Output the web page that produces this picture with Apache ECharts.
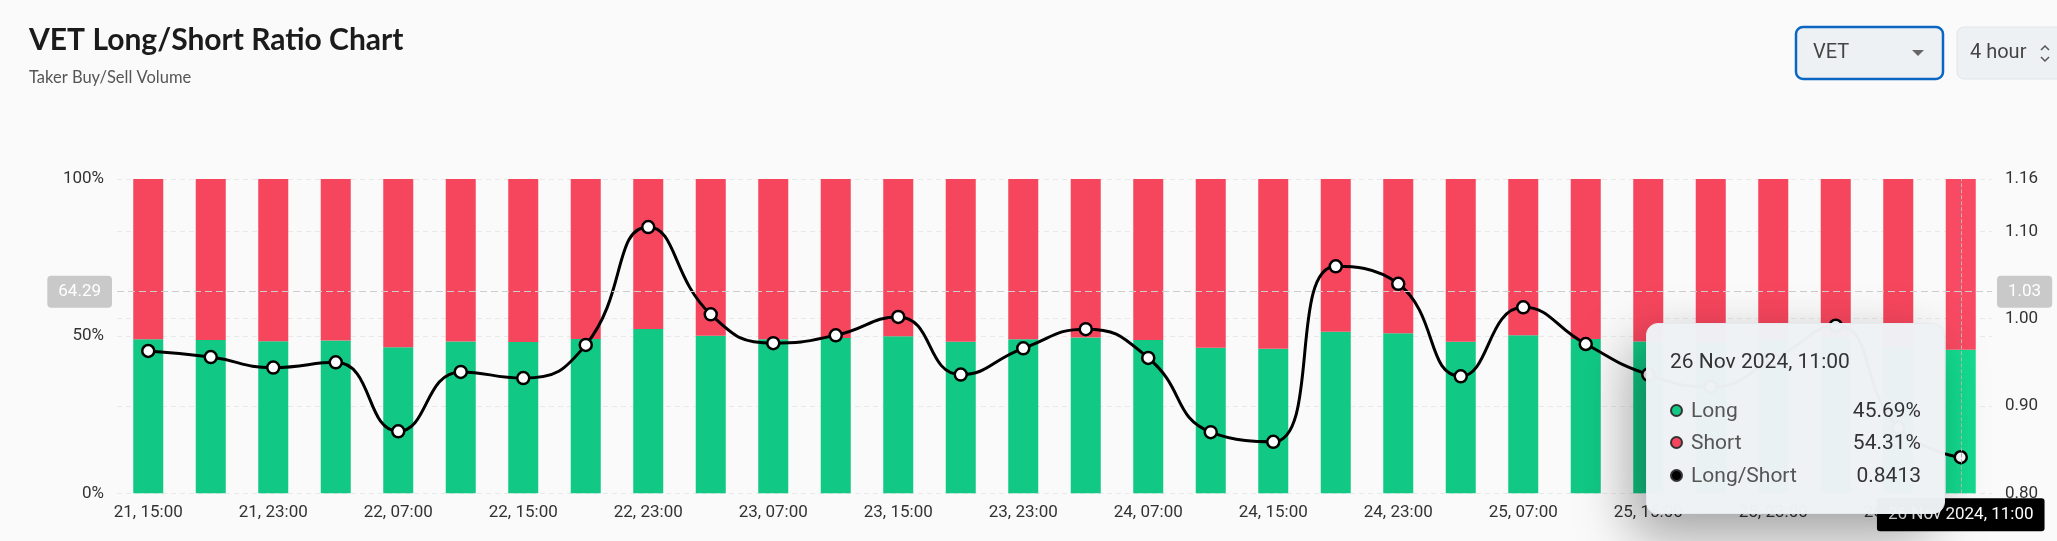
<!DOCTYPE html>
<html>
<head>
<meta charset="utf-8">
<script src="https://cdn.jsdelivr.net/npm/echarts@6/dist/echarts.min.js"></script>
<style>
html,body{margin:0;padding:0;background:#fafafa;}
#chart{width:2057px;height:541px;}
</style>
</head>
<body>
<div id="chart"></div>
<script>
const categories = [
  "2024-11-21 15:00","2024-11-21 19:00","2024-11-21 23:00","2024-11-22 03:00","2024-11-22 07:00",
  "2024-11-22 11:00","2024-11-22 15:00","2024-11-22 19:00","2024-11-22 23:00","2024-11-23 03:00",
  "2024-11-23 07:00","2024-11-23 11:00","2024-11-23 15:00","2024-11-23 19:00","2024-11-23 23:00",
  "2024-11-24 03:00","2024-11-24 07:00","2024-11-24 11:00","2024-11-24 15:00","2024-11-24 19:00",
  "2024-11-24 23:00","2024-11-25 03:00","2024-11-25 07:00","2024-11-25 11:00","2024-11-25 15:00",
  "2024-11-25 19:00","2024-11-25 23:00","2024-11-26 03:00","2024-11-26 07:00","2024-11-26 11:00"
];
const longPct = [49.0, 48.8, 48.4, 48.6, 46.5, 48.3, 48.1, 49.1, 52.3, 50.1,
                 49.0, 49.4, 50.0, 48.2, 49.0, 49.6, 48.8, 46.3, 46.0, 51.4,
                 50.9, 48.2, 50.3, 49.1, 48.3, 48.0, 48.8, 49.8, 46.6, 45.69];
const shortPct = [51.0, 51.2, 51.6, 51.4, 53.5, 51.7, 51.9, 50.9, 47.7, 49.9,
                  51.0, 50.6, 50.0, 51.8, 51.0, 50.4, 51.2, 53.7, 54.0, 48.6,
                  49.1, 51.8, 49.7, 50.9, 51.7, 52.0, 51.2, 50.2, 53.4, 54.31];
const ratio = [0.963, 0.956, 0.944, 0.950, 0.871, 0.939, 0.932, 0.970, 1.105, 1.005,
               0.972, 0.981, 1.002, 0.936, 0.966, 0.988, 0.955, 0.870, 0.859, 1.060,
               1.040, 0.934, 1.013, 0.971, 0.936, 0.922, 0.953, 0.992, 0.875, 0.8413];
const leftTicks = [0, 50, 100];
const rightAxisRange = [0.80, 1.16];
const pointerLeftValue = 64.29;
const hoverIndex = 29;

const MONTHS = ["Jan","Feb","Mar","Apr","May","Jun","Jul","Aug","Sep","Oct","Nov","Dec"];
function shortLabel(s){ const d = s.slice(8,10); const t = s.slice(11); return d + ", " + t; }
function fullLabel(s){
  const y = s.slice(0,4), m = +s.slice(5,7), d = s.slice(8,10), t = s.slice(11);
  return d + " " + MONTHS[m-1] + " " + y + ", " + t;
}

const GREEN = '#11C985', RED = '#F6465D';
const FONT = 'Roboto';
const chart = echarts.init(document.getElementById('chart'), null, {renderer:'canvas'});

function marker(c){
  return '<span style="display:inline-block;width:9px;height:9px;border-radius:50%;border:2px solid #333;background:'+c+';margin-right:8px;flex:none"></span>';
}
function row(c, name, val){
  return '<div style="display:flex;align-items:center;height:32.5px;font-size:21px;">' + marker(c) +
    '<span style="color:#555;flex:1">' + name + '</span><span style="color:#333">' + val + '</span></div>';
}

const option = {
  backgroundColor: '#fafafa',
  animation: false,
  textStyle: {fontFamily: FONT},
  graphic: [
    {type:'text', x:29, y:40, style:{text:'VET Long/Short Ratio Chart', font:'700 30px Lato', fill:'#1b1b1b', verticalAlign:'middle'}},
    {type:'text', x:29, y:78, style:{text:'Taker Buy/Sell Volume', font:'400 16.5px Lato', fill:'#555', verticalAlign:'middle'}},
    {type:'rect', shape:{x:1796, y:27, width:147, height:52, r:7}, style:{fill:'#eef1f4', stroke:'#0B66C3', lineWidth:2.5}},
    {type:'text', x:1813, y:53, style:{text:'VET', font:'400 20px Roboto', fill:'#444', verticalAlign:'middle'}},
    {type:'polygon', shape:{points:[[1912,50],[1924,50],[1918,56]]}, style:{fill:'#666'}},
    {type:'rect', shape:{x:1957, y:27, width:110, height:52, r:7}, style:{fill:'#eef1f4', stroke:'#e1e4e8', lineWidth:1}},
    {type:'text', x:1970, y:53, style:{text:'4 hour', font:'400 20px Roboto', fill:'#444', verticalAlign:'middle'}},
    {type:'polyline', shape:{points:[[2041,50],[2045,46],[2049,50]]}, style:{stroke:'#555', lineWidth:1.5, fill:null}},
    {type:'polyline', shape:{points:[[2041,57],[2045,61],[2049,57]]}, style:{stroke:'#555', lineWidth:1.5, fill:null}}
  ],
  grid: {left:117, right:65, top:179, bottom:47.7, containLabel:false, outerBoundsMode:'none'},
  tooltip: {
    trigger: 'axis',
    triggerOn: 'none',
    alwaysShowContent: true,
    transitionDuration: 0,
    backgroundColor: 'rgba(239,242,245,0.98)',
    borderColor: '#e6e9ed',
    borderWidth: 1,
    borderRadius: 12,
    padding: [22, 23, 21, 23],
    extraCssText: 'width:299px;box-sizing:border-box;box-shadow:-14px 22px 55px rgba(0,0,0,0.36);',
    position: function(){ return [1646, 323]; },
    axisPointer: {
      type: 'cross',
      crossStyle: {color:'#cdcdcd', width:1, type:[7,4]}
    },
    formatter: function(params){
      const i = params[0].dataIndex;
      let html = '<div style="font-family:Roboto;">';
      html += '<div style="font-size:21px;line-height:30px;color:#333;margin-bottom:18px">' + fullLabel(categories[i]) + '</div>';
      html += row(GREEN, 'Long', longPct[i].toFixed(2) + '%');
      html += row(RED, 'Short', shortPct[i].toFixed(2) + '%');
      html += row('#000', 'Long/Short', ratio[i].toFixed(4));
      html += '</div>';
      return html;
    }
  },
  xAxis: {
    type: 'category',
    data: categories,
    axisLine: {show:false},
    axisTick: {show:false},
    axisLabel: {interval:1, margin:11, color:'#333', fontSize:17, fontFamily:FONT, formatter: shortLabel},
    axisPointer: {
      label: {
        formatter: p => fullLabel(p.value),
        backgroundColor: '#000', color: '#fff', fontSize: 17, fontFamily: FONT,
        padding: [8, 11, 8, 11], lineHeight: 17, borderRadius: 3, margin: 5,
        shadowBlur: 0
      }
    }
  },
  yAxis: [
    {
      type: 'value', min: 0, max: 100, interval: 50,
      axisLine: {show:false}, axisTick: {show:false},
      axisLabel: {formatter: '{value}%', color:'#333', fontSize:17, fontFamily:FONT, margin:13},
      splitLine: {show:true, lineStyle:{color:'#e9e9e9', type:[5,4], width:1}},
      axisPointer: {
        label: {
          formatter: p => (+p.value).toFixed(2),
          backgroundColor: '#c9c9c9', color: '#fff', fontSize: 17, fontFamily: FONT,
          padding: [7, 11, 7, 11], lineHeight: 18, borderRadius: 4, margin: 5, shadowBlur: 0
        }
      }
    },
    {
      type: 'value', min: rightAxisRange[0], max: rightAxisRange[1], interval: 0.1,
      position: 'right',
      axisLine: {show:false}, axisTick: {show:false},
      axisLabel: {formatter: v => v.toFixed(2), color:'#333', fontSize:17, fontFamily:FONT, margin:13},
      splitLine: {show:true, lineStyle:{color:'#e9e9e9', type:[5,4], width:1}},
      axisPointer: {
        label: {
          formatter: p => (+p.value).toFixed(2),
          backgroundColor: '#c9c9c9', color: '#fff', fontSize: 17, fontFamily: FONT,
          padding: [7, 11, 7, 11], lineHeight: 18, borderRadius: 4, margin: 5, shadowBlur: 0
        }
      }
    }
  ],
  series: [
    {
      name: 'Long', type: 'bar', stack: 'ls', data: longPct, barWidth: '48%',
      itemStyle: {color: GREEN},
      emphasis: {itemStyle: {color: '#14DB8F'}}
    },
    {
      name: 'Short', type: 'bar', stack: 'ls', data: shortPct, barWidth: '48%',
      itemStyle: {color: RED},
      emphasis: {itemStyle: {color: '#F84A62'}}
    },
    {
      name: 'Long/Short', type: 'line', yAxisIndex: 1, data: ratio, smooth: true,
      symbol: 'circle', symbolSize: 12, z: 5,
      lineStyle: {color: '#000', width: 3},
      itemStyle: {color: '#fff', borderColor: '#000', borderWidth: 2.5},
      emphasis: {scale: false, lineStyle:{width:3}}
    }
  ]
};
chart.setOption(option);

const px = chart.convertToPixel({xAxisIndex:0}, categories[hoverIndex]);
const py = chart.convertToPixel({yAxisIndex:0}, pointerLeftValue);
chart.dispatchAction({type:'showTip', x: px, y: py});
</script>
</body>
</html>
